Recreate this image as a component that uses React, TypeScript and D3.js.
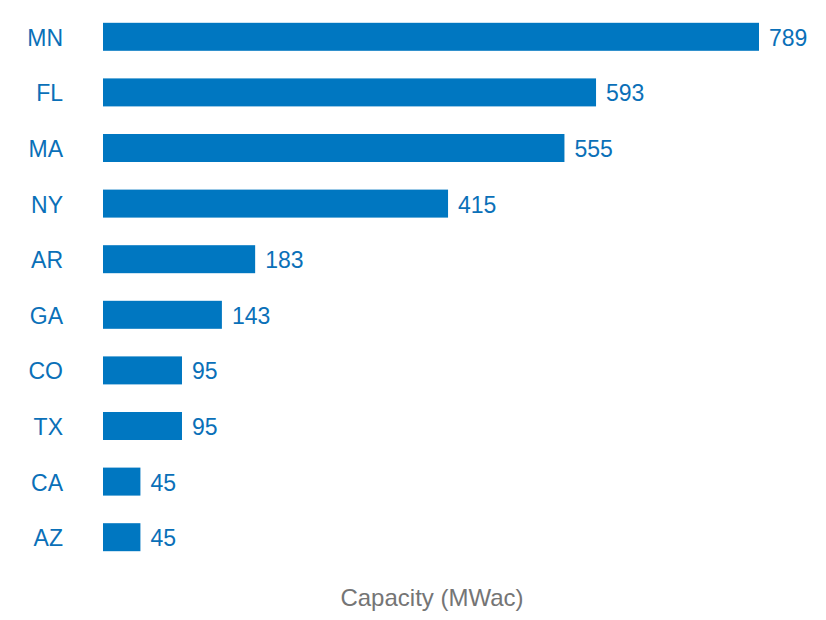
import React from "react";
import * as d3 from "d3";

const states = ["MN", "FL", "MA", "NY", "AR", "GA", "CO", "TX", "CA", "AZ"];
const capacity = [789, 593, 555, 415, 183, 143, 95, 95, 45, 45];
const axisTitle = "Capacity (MWac)";

export default function App() {
  const W = 826, H = 620;
  const x = d3.scaleLinear().domain([0, 789]).range([103, 759]);
  const y = d3.scaleBand().domain(states).range([9, 565]).paddingInner(0.5).paddingOuter(0.25);
  const font = "Arial, 'Liberation Sans', sans-serif";
  return (
    <svg width={W} height={H} style={{ position: "absolute", left: 0, top: 0, background: "#fff" }}>
      {states.map((s, i) => {
        const yc = (y(s) as number) + y.bandwidth() / 2;
        return (
          <g key={s}>
            <rect x={x(0)} y={yc - 14} width={x(capacity[i]) - x(0)} height={28} fill="#0077C1" />
            <text x={63} y={yc + 1} dy="0.35em" textAnchor="end" fontFamily={font} fontSize={23} fill="#0A70B8">{s}</text>
            <text x={x(capacity[i]) + 10} y={yc + 1} dy="0.35em" fontFamily={font} fontSize={23} fill="#0A70B8">{capacity[i]}</text>
          </g>
        );
      })}
      <text x={432} y={606} textAnchor="middle" fontFamily={font} fontSize={24} fill="#757575">{axisTitle}</text>
    </svg>
  );
}
